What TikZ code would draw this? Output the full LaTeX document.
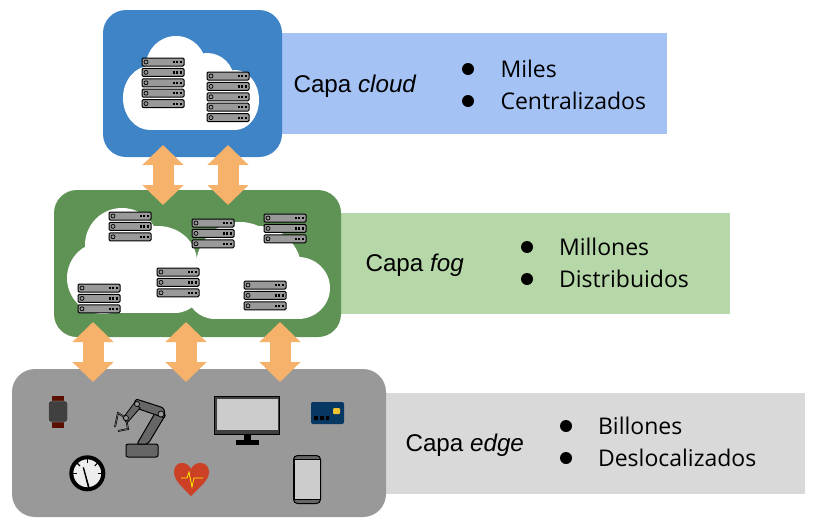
\documentclass[tikz,border=0pt]{standalone}
\usepackage{fontspec}
\setmainfont{Open Sans}
\newfontfamily\capafont{Liberation Sans}
\usetikzlibrary{arrows.meta}
\definecolor{cloudblue}{HTML}{3E84C6}
\definecolor{cloudband}{HTML}{A4C2F4}
\definecolor{foggreen}{HTML}{5F9355}
\definecolor{fogband}{HTML}{B6D7A8}
\definecolor{edgegray}{HTML}{999999}
\definecolor{edgeband}{HTML}{D9D9D9}
\definecolor{arroworange}{HTML}{F6B26B}
\definecolor{heartred}{HTML}{CC4125}
\definecolor{cardblue}{HTML}{073763}
\definecolor{chipyellow}{HTML}{F1C232}
\definecolor{strapred}{HTML}{5B0F00}
\tikzset{
  layer/.style={draw=none,rounded corners=23pt,inner sep=0pt},
  capa/.style={anchor=west,font=\capafont\fontsize{24.2}{28}\selectfont},
  item/.style={anchor=west,font=\fontsize{23}{28}\selectfont},
  dot/.style={circle,fill=black,inner sep=0pt,minimum size=12pt},
  updown/.style={draw=arroworange,line width=21pt,
    {Triangle[width=40pt,length=20pt]}-{Triangle[width=40pt,length=20pt]}},
  unit/.style={fill=edgegray,draw=black,line width=1pt,rounded corners=1.2pt},
  pics/rack/.style={code={
    \foreach \i in {1,...,#1}{
      \draw[unit] (0,{(\i-1)*10.4}) rectangle +(42,8);
      \draw[black,line width=.7pt,fill=edgegray] (4,{(\i-1)*10.4+4}) circle (2pt);
      \foreach \j in {30.5,34,37.5}
        \fill[black] (\j,{(\i-1)*10.4+3}) rectangle +(2,2.2);
    }
  }}
}
\begin{document}
\begin{tikzpicture}[x=1pt,y=-1pt]
\useasboundingbox (0,0) rectangle (816,530);
% bands
\fill[cloudband] (270,33) rectangle (667,134);
\fill[fogband] (330,213) rectangle (730,314);
\fill[edgeband] (375,393) rectangle (805,494);
% layers
\node[layer,fill=cloudblue,minimum width=179pt,minimum height=147pt] (cloud) at (192.5,83.5) {};
\node[layer,fill=foggreen,minimum width=287pt,minimum height=147pt] (fog) at (197.5,263.5) {};
\node[layer,fill=edgegray,minimum width=374pt,minimum height=148pt] (edge) at (199,443) {};
% arrows
\coordinate (ca) at (163,145);
\coordinate (fa) at (163,205);
\coordinate (cb) at (228,145);
\coordinate (fb) at (228,205);
\coordinate (fc) at (93,322);
\coordinate (ec) at (93,382);
\coordinate (fd) at (186,322);
\coordinate (ed) at (186,382);
\coordinate (fe) at (280,322);
\coordinate (ee) at (280,382);
\draw[updown] (ca) -- (fa);
\draw[updown] (cb) -- (fb);
\draw[updown] (fc) -- (ec);
\draw[updown] (fd) -- (ed);
\draw[updown] (fe) -- (ee);
% clouds
\fill[white] (150,98) ellipse (27pt and 32pt);
\fill[white] (176,66) circle (30pt);
\fill[white] (207,80) circle (27pt);
\fill[white] (235,100) ellipse (24pt and 30pt);
\fill[white] (150,85) rectangle (235,130);
\fill[white] (103,278) ellipse (36pt and 36pt);
\fill[white] (122,245) circle (37pt);
\fill[white] (158,262) ellipse (39pt and 36pt);
\fill[white] (175,285) circle (28pt);
\fill[white] (103,270) rectangle (175,313);
\fill[white] (240,266) circle (44pt);
\fill[white] (258,272) ellipse (44pt and 46pt);
\fill[white] (298,288) ellipse (32pt and 31pt);
\fill[white] (215,290) circle (29pt);
\fill[white] (215,285) rectangle (298,319);
% servers
\pic at (142,58) {rack=5};
\pic at (207,72) {rack=5};
\pic at (109,212) {rack=3};
\pic at (192,219) {rack=3};
\pic at (264,214) {rack=3};
\pic at (157,268) {rack=3};
\pic at (78,284) {rack=3};
\pic at (244,281) {rack=3};
% texts
\node[capa] (capacloud) at (290,86) {Capa \textit{cloud}};
\node[capa] (capafog) at (362,265) {Capa \textit{fog}};
\node[capa] (capaedge) at (402,445) {Capa \textit{edge}};
\node[dot] (d1) at (468,69) {}; \node[item] (t1) at (497,69) {Miles};
\node[dot] (d2) at (468,101) {}; \node[item] (t2) at (497,101) {Centralizados};
\node[dot] (d3) at (527,247) {}; \node[item] (t3) at (555.5,247) {Millones};
\node[dot] (d4) at (527,279) {}; \node[item] (t4) at (555.5,279) {Distribuidos};
\node[dot] (d5) at (566,426) {}; \node[item] (t5) at (594.5,426) {Billones};
\node[dot] (d6) at (566,458) {}; \node[item] (t6) at (594.5,458) {Deslocalizados};
% watch
\fill[strapred] (52,396) rectangle (64,428);
\draw[fill=black!75,draw=black!25,rounded corners=2pt] (48.5,401) rectangle (67.5,422);
% robot
\draw[fill=black!60,line width=1pt,rounded corners=2pt] (126,444) rectangle (158,457);
\draw[fill=black!60,line width=1pt,rounded corners=2pt] (137,444) -- (158,408) -- (166,414) -- (148,444) -- cycle;
\draw[fill=black!60,line width=1pt,rounded corners=2pt] (136,399) -- (164,408) -- (165,418) -- (133,407) -- cycle;
\draw[fill=black!60,line width=.8pt] (135,402) -- (140,408) -- (127,423) -- (123,418) -- cycle;
\draw[line width=1.8pt,black] (126,418) -- (118,413) -- (115,427);
\draw[line width=1.8pt,black] (126,418) -- (128,429) -- (118,431);
\draw[line width=.7pt,black!60] (126,418) -- (118,413) -- (115,427) (126,418) -- (128,429) -- (118,431);
\draw[fill=edgegray,line width=.7pt] (161,414) circle (3pt);
\draw[fill=edgegray,line width=.7pt] (137,404) circle (2.5pt);
\draw[fill=edgegray,line width=.7pt] (126,418) circle (2.5pt);
% gauge
\draw[fill=black!7,line width=4pt] (87.3,473.3) circle (16pt);
\fill (82.7,467.5) -- (84,467.2) -- (89.5,487) -- (87.8,487.3) -- cycle;
\foreach \a in {-90,-45,0,45,90}
  \draw[line width=1.2pt] ({87.3+10.5*sin(\a)},{473.3-10.5*cos(\a)}) -- ({87.3+15*sin(\a)},{473.3-15*cos(\a)});
% heart
\fill[heartred] (191,496) .. controls (181,486) and (174,480) .. (174,472)
  .. controls (174,461) and (187,460) .. (191,469) .. controls (195,460) and (209,461) .. (209,472)
  .. controls (209,480) and (201,486) .. (191,496) -- cycle;
\draw[yellow,line width=.8pt] (181,478) -- (187,478) -- (189,472) -- (192,487) -- (194,478) -- (203,478);
% monitor
\draw[fill=black!75,line width=1pt] (214.5,396.5) rectangle (279.5,434);
\fill[black!20] (217,398.5) rectangle (278,430);
\fill[black] (244,434) rectangle (251,440);
\fill[black] (236,440) rectangle (259,445);
% card
\fill[cardblue,rounded corners=2pt] (311,402) rectangle (344,424);
\fill[chipyellow,rounded corners=1pt] (333,408) rectangle (340,414);
\fill[black] (314,416) rectangle (318,420) (320,416) rectangle (324,420) (326,416) rectangle (329,420);
% phone
\draw[fill=black!60,line width=1pt,rounded corners=4pt] (293.5,455.5) rectangle (320.5,503.5);
\draw[fill=black!20,line width=1pt] (294,459.5) rectangle (320,499.5);
\end{tikzpicture}
\end{document}
